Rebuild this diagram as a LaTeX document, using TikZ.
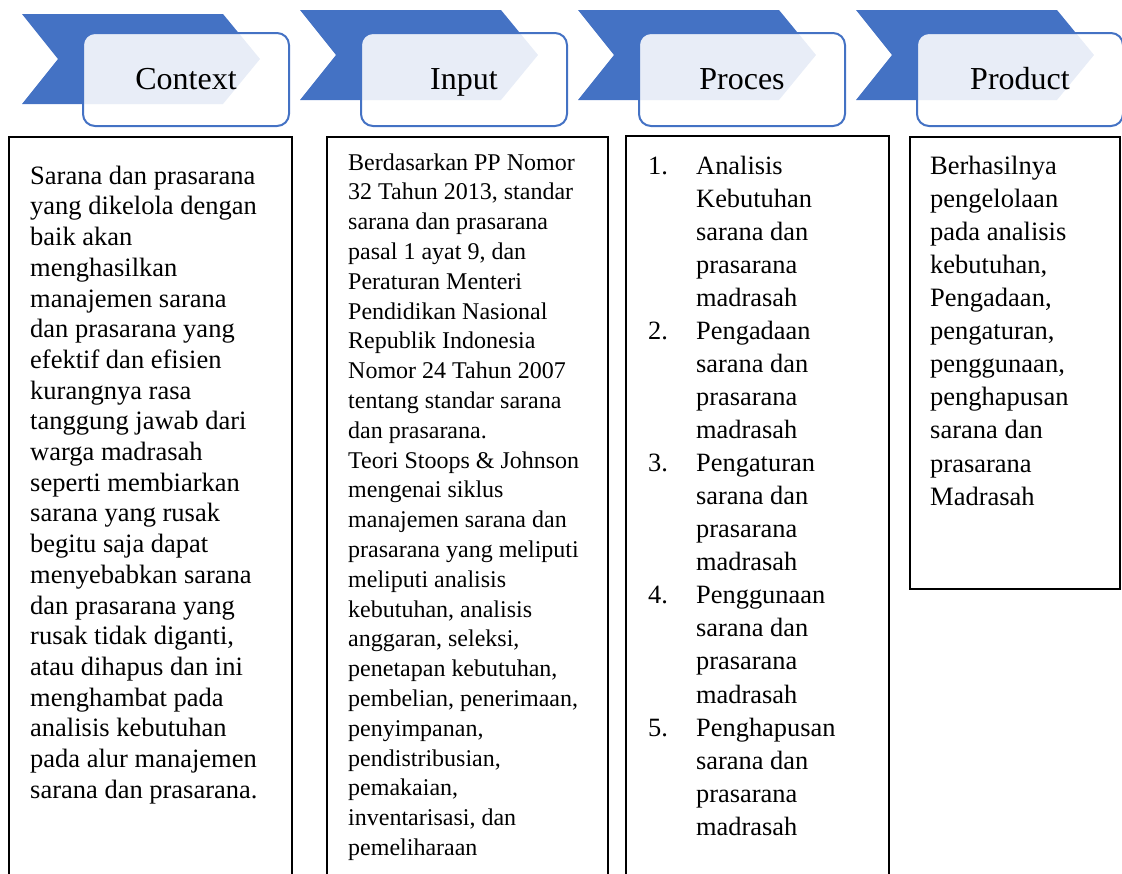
\documentclass[tikz,border=0pt]{standalone}
\usepackage{fontspec}
\setmainfont{Liberation Serif}
\definecolor{chevblue}{HTML}{4472C4}
\tikzset{
  chev/.style={fill=chevblue, draw=none},
  headbox/.style={draw=chevblue, line width=2pt, fill=white, fill opacity=0.88, rounded corners=12pt},
  headtext/.style={anchor=base, inner sep=0pt, font=\fontsize{32}{38}\selectfont, text=black},
  colbox/.style={draw=black, line width=2.8pt},
  bodytext/.style={anchor=north west, inner sep=0pt, align=left, text=black},
}
\begin{document}
\begin{tikzpicture}[x=1pt,y=-1pt]
\useasboundingbox (0,0) rectangle (1122,873);

% chevrons and header boxes
\foreach \L/\T/\R/\name/\lab in {22/14/83/c/Context,300/10/361/i/Input,578/10/639/p/Proces,856/10/917/d/Product}{
  \fill[chev] (\L,\T) -- (\L+201,\T) -- (\L+238,\T+45) -- (\L+201,\T+90) -- (\L,\T+90) -- (\L+36,\T+45) -- cycle;
  \draw[headbox] (\R,33) rectangle (\R+206,126);
  \node[headtext] (h\name) at (\R+103,89) {\lab};
}

% column boxes (open at the bottom, cut by the page edge)
\coordinate (b1a) at (9,874);   \coordinate (b1b) at (292,874);
\coordinate (b2a) at (327,874); \coordinate (b2b) at (608,874);
\coordinate (b3a) at (626,874); \coordinate (b3b) at (889,874);
\draw[colbox] (b1a) -- (9,137) -- (292,137) -- (b1b);
\draw[colbox] (b2a) -- (327,137) -- (608,137) -- (b2b);
\draw[colbox] (b3a) -- (626,136) -- (889,136) -- (b3b);
\draw[colbox] (910,137) rectangle (1120,589);

% context text
\node[bodytext, font=\fontsize{26.5}{30.7}\selectfont] (tc) at (30,162.5) {\strut Sarana dan prasarana\\
yang dikelola dengan\\
baik akan\\
menghasilkan\\
manajemen sarana\\
dan prasarana yang\\
efektif dan efisien\\
kurangnya rasa\\
tanggung jawab dari\\
warga madrasah\\
seperti membiarkan\\
sarana yang rusak\\
begitu saja dapat\\
menyebabkan sarana\\
dan prasarana yang\\
rusak tidak diganti,\\
atau dihapus dan ini\\
menghambat pada\\
analisis kebutuhan\\
pada alur manajemen\\
sarana dan prasarana.};

% input text
\node[bodytext, font=\fontsize{24}{29.8}\selectfont] (ti) at (348,149) {\strut Berdasarkan PP Nomor\\
32 Tahun 2013, standar\\
sarana dan prasarana\\
pasal 1 ayat 9, dan\\
Peraturan Menteri\\
Pendidikan Nasional\\
Republik Indonesia\\
Nomor 24 Tahun 2007\\
tentang standar sarana\\
dan prasarana.\\
Teori Stoops \& Johnson\\
mengenai siklus\\
manajemen sarana dan\\
prasarana yang meliputi\\
meliputi analisis\\
kebutuhan, analisis\\
anggaran, seleksi,\\
penetapan kebutuhan,\\
pembelian, penerimaan,\\
penyimpanan,\\
pendistribusian,\\
pemakaian,\\
inventarisasi, dan\\
pemeliharaan};

% process text
\node[bodytext, font=\fontsize{26.4}{33.05}\selectfont] (tp) at (648,150.9) {\strut\makebox[48pt][l]{1.}Analisis\\
\hspace*{48pt}Kebutuhan\\
\hspace*{48pt}sarana dan\\
\hspace*{48pt}prasarana\\
\hspace*{48pt}madrasah\\
\makebox[48pt][l]{2.}Pengadaan\\
\hspace*{48pt}sarana dan\\
\hspace*{48pt}prasarana\\
\hspace*{48pt}madrasah\\
\makebox[48pt][l]{3.}Pengaturan\\
\hspace*{48pt}sarana dan\\
\hspace*{48pt}prasarana\\
\hspace*{48pt}madrasah\\
\makebox[48pt][l]{4.}Penggunaan\\
\hspace*{48pt}sarana dan\\
\hspace*{48pt}prasarana\\
\hspace*{48pt}madrasah\\
\makebox[48pt][l]{5.}Penghapusan\\
\hspace*{48pt}sarana dan\\
\hspace*{48pt}prasarana\\
\hspace*{48pt}madrasah};

% product text
\node[bodytext, font=\fontsize{26.5}{33.1}\selectfont] (td) at (930,150.8) {\strut Berhasilnya\\
pengelolaan\\
pada analisis\\
kebutuhan,\\
Pengadaan,\\
pengaturan,\\
penggunaan,\\
penghapusan\\
sarana dan\\
prasarana\\
Madrasah};
\end{tikzpicture}
\end{document}
